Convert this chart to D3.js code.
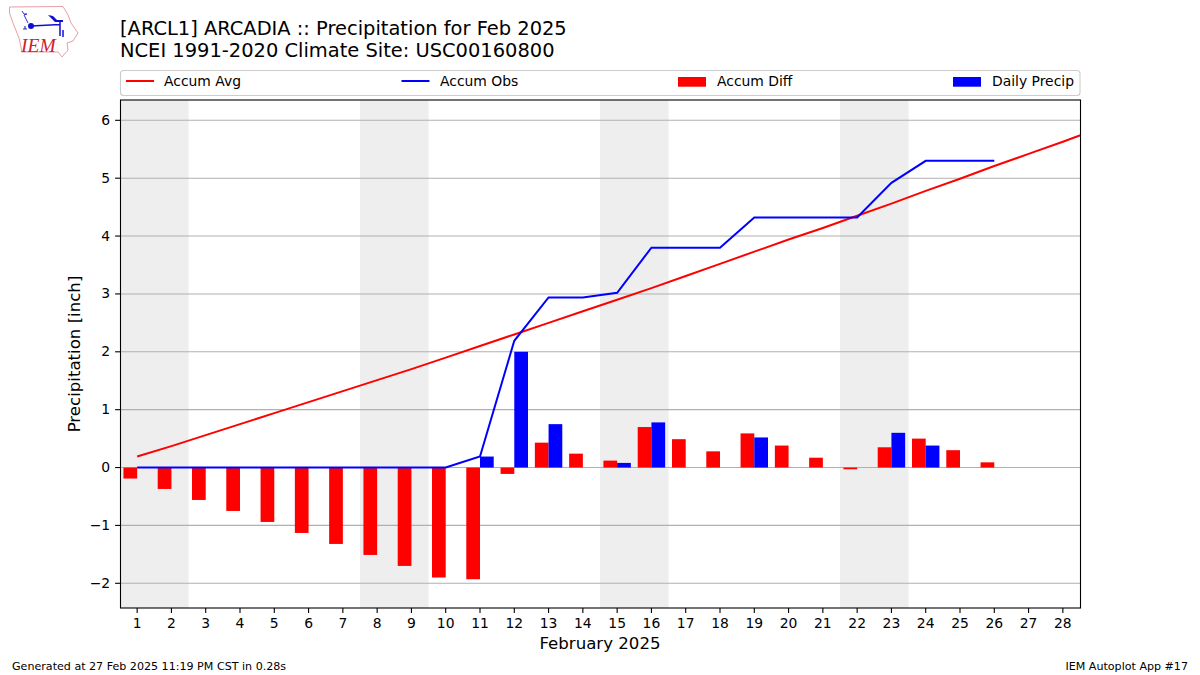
<!DOCTYPE html>
<html>
<head>
<meta charset="utf-8">
<script src="https://cdn.jsdelivr.net/npm/d3@7"></script>
<style>
  html, body { margin: 0; padding: 0; background: #fff; }
  text { font-family: "DejaVu Sans", sans-serif; fill: #000; }
</style>
</head>
<body>
<div class="chart"></div>
<script>
const titleLines = ['[ARCL1] ARCADIA :: Precipitation for Feb 2025', 'NCEI 1991-2020 Climate Site: USC00160800'];
const xLabel = 'February 2025';
const yLabel = 'Precipitation [inch]';
const footerLeft = 'Generated at 27 Feb 2025 11:19 PM CST in 0.28s';
const footerRight = 'IEM Autoplot App #17';

const days = d3.range(1, 29);
const yTicks = [-2, -1, 0, 1, 2, 3, 4, 5, 6];
// sat/sun pairs, shaded
const weekends = [[0.5, 2.5], [7.5, 9.5], [14.5, 16.5], [21.5, 23.5]];

// climatology runs on to day 29, it gets clipped at the axes edge
const accumAvg = [0.19, 0.37, 0.56, 0.75, 0.94, 1.13, 1.32, 1.51, 1.70, 1.90, 2.10, 2.30, 2.50, 2.70, 2.90,
  3.10, 3.31, 3.52, 3.73, 3.94, 4.14, 4.35, 4.56, 4.78, 4.99, 5.21, 5.42, 5.63, 5.85];
const accumObs = [0, 0, 0, 0, 0, 0, 0, 0, 0, 0, 0.19, 2.19, 2.94, 2.94, 3.02, 3.80, 3.80, 3.80, 4.32, 4.32,
  4.32, 4.32, 4.92, 5.30, 5.30, 5.30];
const accumDiff = [-0.19, -0.37, -0.56, -0.75, -0.94, -1.13, -1.32, -1.51, -1.70, -1.90, -1.93, -0.11, 0.43,
  0.24, 0.12, 0.70, 0.49, 0.28, 0.59, 0.38, 0.17, -0.03, 0.35, 0.50, 0.30, 0.09];
const dailyPrecip = [0, 0, 0, 0, 0, 0, 0, 0, 0, 0, 0.19, 2.00, 0.75, 0, 0.08, 0.78, 0, 0, 0.52, 0, 0, 0, 0.60,
  0.38, 0, 0];

let margin = {top: 100, right: 120, bottom: 67, left: 120};
let width = 1200 - margin.left - margin.right;
let height = 675 - margin.top - margin.bottom;
let barWidth = 0.4;

let root = d3.select('.chart')
  .append('svg')
    .attr('width', 1200)
    .attr('height', 675)
    .style('display', 'block');

root.append('defs').append('clipPath')
    .attr('id', 'plot')
  .append('rect')
    .attr('width', width)
    .attr('height', height);

let svg = root.append('g')
  .attr('transform', `translate(${margin.left}, ${margin.top})`);

let xScale = d3.scaleLinear().domain([0.5, 28.5]).range([0, width]);
let yScale = d3.scaleLinear().domain([-2.427, 6.351]).range([height, 0]);

let plot = svg.append('g').attr('clip-path', 'url(#plot)');

plot.selectAll('.weekend')
  .data(weekends)
  .join('rect')
    .attr('class', 'weekend')
    .attr('x', d => xScale(d[0]))
    .attr('width', d => xScale(d[1]) - xScale(d[0]))
    .attr('height', height)
    .style('fill', '#eeeeee');

plot.selectAll('.grid')
  .data(yTicks)
  .join('line')
    .attr('class', 'grid')
    .attr('x2', width)
    .attr('y1', d => yScale(d))
    .attr('y2', d => yScale(d))
    .style('stroke', '#b0b0b0')
    .style('stroke-width', 1.1);

plot.selectAll('.diff')
  .data(accumDiff)
  .join('rect')
    .attr('class', 'diff')
    .attr('x', (d, i) => xScale(days[i] - barWidth))
    .attr('width', xScale(barWidth) - xScale(0))
    .attr('y', d => yScale(Math.max(d, 0)))
    .attr('height', d => Math.abs(yScale(d) - yScale(0)))
    .style('fill', '#ff0000');

plot.selectAll('.daily')
  .data(dailyPrecip)
  .join('rect')
    .attr('class', 'daily')
    .attr('x', (d, i) => xScale(days[i]))
    .attr('width', xScale(barWidth) - xScale(0))
    .attr('y', d => yScale(d))
    .attr('height', d => yScale(0) - yScale(d))
    .style('fill', '#0000ff');

let line = d3.line()
  .x((d, i) => xScale(i + 1))
  .y(d => yScale(d));

plot.append('path')
  .attr('d', line(accumAvg))
  .style('fill', 'none')
  .style('stroke', '#ff0000')
  .style('stroke-width', 2);

plot.append('path')
  .attr('d', line(accumObs))
  .style('fill', 'none')
  .style('stroke', '#0000ff')
  .style('stroke-width', 2);

svg.append('rect')
  .attr('x', 0.5)
  .attr('width', width)
  .attr('height', height)
  .style('fill', 'none')
  .style('stroke', '#000')
  .style('stroke-width', 1.1);

let xAxis = d3.axisBottom(xScale).tickValues(days).tickFormat(d3.format('d'))
  .offset(0).tickSize(4.9).tickPadding(4.9);
let yAxis = d3.axisLeft(yScale).tickValues(yTicks)
  .tickFormat(d => d < 0 ? '\u2212' + Math.abs(d) : d)
  .offset(0).tickSize(4.9).tickPadding(4.9);

let gx = svg.append('g')
  .attr('transform', `translate(0, ${height})`)
  .call(xAxis);
let gy = svg.append('g').call(yAxis);

[gx, gy].forEach(g => {
  g.select('.domain').remove();
  g.selectAll('.tick line').style('stroke', '#000').style('stroke-width', 1.1);
  g.selectAll('.tick text').style('font-family', '"DejaVu Sans"').style('font-size', '13.9px').style('fill', '#000');
});

root.append('text')
  .attr('x', 600)
  .attr('y', 649)
  .attr('text-anchor', 'middle')
  .style('font-size', '16.6px')
  .text(xLabel);

root.append('text')
  .attr('transform', 'translate(80, 354) rotate(-90)')
  .attr('text-anchor', 'middle')
  .style('font-size', '16.6px')
  .text(yLabel);

root.selectAll('.title')
  .data(titleLines)
  .join('text')
    .attr('class', 'title')
    .attr('x', 120)
    .attr('y', (d, i) => 35 + i * 22)
    .style('font-size', '19.45px')
    .text(d => d);

root.append('text')
  .attr('x', 12)
  .attr('y', 670)
  .style('font-size', '11.1px')
  .text(footerLeft);

root.append('text')
  .attr('x', 1188)
  .attr('y', 670)
  .attr('text-anchor', 'end')
  .style('font-size', '11.1px')
  .text(footerRight);

// legend
const legendItems = [
  {label: 'Accum Avg', color: '#ff0000', type: 'line', x: 126, textX: 164},
  {label: 'Accum Obs', color: '#0000ff', type: 'line', x: 401.5, textX: 440},
  {label: 'Accum Diff', color: '#ff0000', type: 'patch', x: 678, textX: 717},
  {label: 'Daily Precip', color: '#0000ff', type: 'patch', x: 953, textX: 992}
];

let legend = root.append('g');
legend.append('rect')
  .attr('x', 120.5)
  .attr('y', 70.5)
  .attr('width', 959.5)
  .attr('height', 25)
  .attr('rx', 3)
  .style('fill', '#fff')
  .style('stroke', '#cccccc')
  .style('stroke-width', 1.1);

legendItems.forEach(d => {
  if (d.type === 'line') {
    legend.append('line')
      .attr('x1', d.x).attr('x2', d.x + 28)
      .attr('y1', 81).attr('y2', 81)
      .style('stroke', d.color)
      .style('stroke-width', 2);
  } else {
    legend.append('rect')
      .attr('x', d.x).attr('y', 77)
      .attr('width', 28).attr('height', 9.7)
      .style('fill', d.color);
  }
  legend.append('text')
    .attr('x', d.textX)
    .attr('y', 86)
    .style('font-size', '13.9px')
    .text(d.label);
});

// IEM logo, hand traced
let logo = root.append('g');
logo.append('path')
  .attr('d', 'M9.5,7 L63,6.5 L68,15 L71,23 L78,33 L73,41 L67,43 L68,50 L62,57 L58,52 L22,52 L19,38 L13,23 L9.5,13 Z')
  .style('fill', '#fff')
  .style('stroke', '#e8a0a0')
  .style('stroke-width', 1);
logo.append('path')
  .attr('d', 'M31,26 L60,24.5 M60,21 L60,36 M63,30 L63,37')
  .style('fill', 'none')
  .style('stroke', '#1010d0')
  .style('stroke-width', 1.5);
logo.append('path')
  .attr('d', 'M22,11 L24,14 L27,14 L24,15 L28,23')
  .style('fill', 'none')
  .style('stroke', '#3030d0')
  .style('stroke-width', 1);
logo.append('path')
  .attr('d', 'M48,15 L53,16 L57,20 L63,20 L63,22 L55,22 Z')
  .style('fill', '#1010d0');
logo.append('circle')
  .attr('cx', 31).attr('cy', 26).attr('r', 3)
  .style('fill', '#1010d0');
logo.append('path')
  .attr('d', 'M23,29 h4 M25,26 v3')
  .style('stroke', '#3030d0')
  .style('stroke-width', 1.2);
logo.append('text')
  .attr('x', 21).attr('y', 52)
  .style('font-family', '"Liberation Serif", serif')
  .style('font-style', 'italic')
  .style('font-size', '19.5px')
  .style('fill', '#d02030')
  .text('IEM');
</script>
</body>
</html>
